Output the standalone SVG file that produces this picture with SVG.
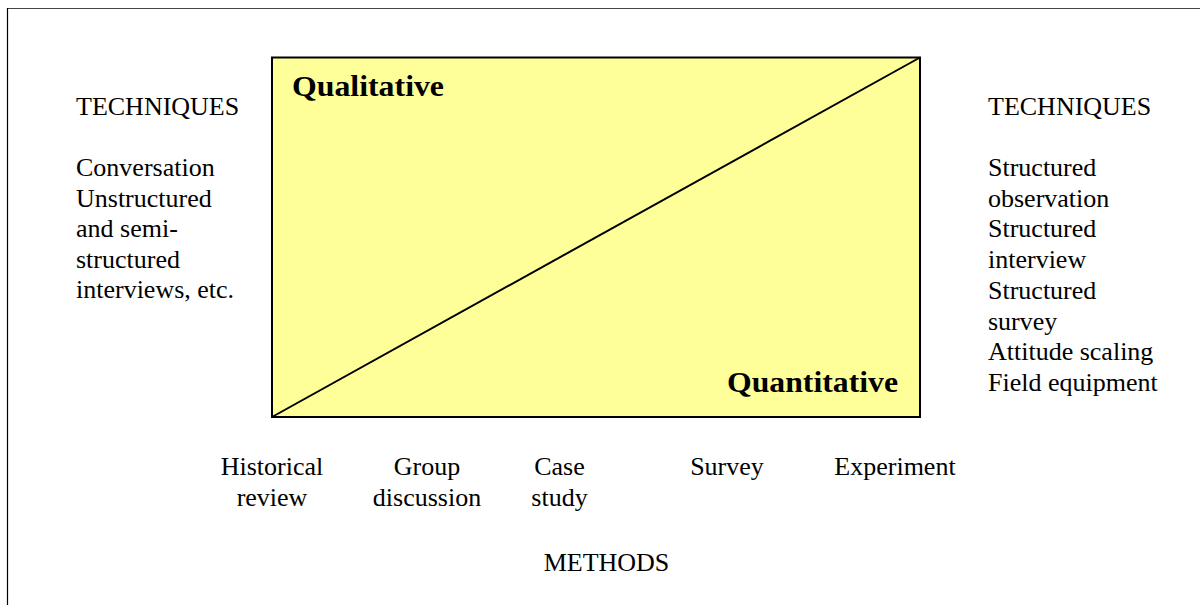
<svg xmlns="http://www.w3.org/2000/svg" width="1200" height="605" viewBox="0 0 1200 605">
<style>
.t{font-family:"Liberation Serif","Times New Roman",serif;font-size:26px;fill:#000}
.c{text-anchor:middle}
.b{font-family:"Liberation Serif","Times New Roman",serif;font-weight:bold;font-size:29px;fill:#000}
</style>
<rect width="1200" height="605" fill="#fff"/>
<g id="frame">
<line x1="7.5" y1="8.5" x2="1200" y2="8.5" stroke="#444" stroke-width="1.2"/>
<line x1="7.5" y1="8" x2="7.5" y2="605" stroke="#000" stroke-width="1.2"/>
</g>
<g id="box">
<rect x="272" y="57.5" width="648" height="359.5" fill="#ffff99" stroke="#000" stroke-width="2"/>
<text class="b" x="292" y="96" textLength="152" lengthAdjust="spacingAndGlyphs">Qualitative</text>
<text class="b" x="727" y="392" textLength="171" lengthAdjust="spacingAndGlyphs">Quantitative</text>
</g>
<g id="connectors">
<line x1="272" y1="417" x2="920" y2="57.5" stroke="#000" stroke-width="2"/>
</g>
<g id="left-techniques">
<text class="t" x="76" y="115">TECHNIQUES</text>
<text class="t" x="76" y="176">Conversation</text>
<text class="t" x="76" y="206.5">Unstructured</text>
<text class="t" x="76" y="237">and semi-</text>
<text class="t" x="76" y="267.5">structured</text>
<text class="t" x="76" y="298">interviews, etc.</text>
</g>
<g id="right-techniques">
<text class="t" x="988" y="115">TECHNIQUES</text>
<text class="t" x="988" y="176">Structured</text>
<text class="t" x="988" y="206.7">observation</text>
<text class="t" x="988" y="237.4">Structured</text>
<text class="t" x="988" y="268.1">interview</text>
<text class="t" x="988" y="298.8">Structured</text>
<text class="t" x="988" y="329.5">survey</text>
<text class="t" x="988" y="360.2">Attitude scaling</text>
<text class="t" x="988" y="390.9">Field equipment</text>
</g>
<g id="methods">
<text class="t c" x="272" y="475">Historical</text>
<text class="t c" x="272" y="505.5">review</text>
<text class="t c" x="427" y="475">Group</text>
<text class="t c" x="427" y="505.5">discussion</text>
<text class="t c" x="559.5" y="475">Case</text>
<text class="t c" x="559.5" y="505.5">study</text>
<text class="t c" x="727" y="475">Survey</text>
<text class="t c" x="895" y="475">Experiment</text>
<text class="t c" x="606.5" y="570.5">METHODS</text>
</g>
</svg>
